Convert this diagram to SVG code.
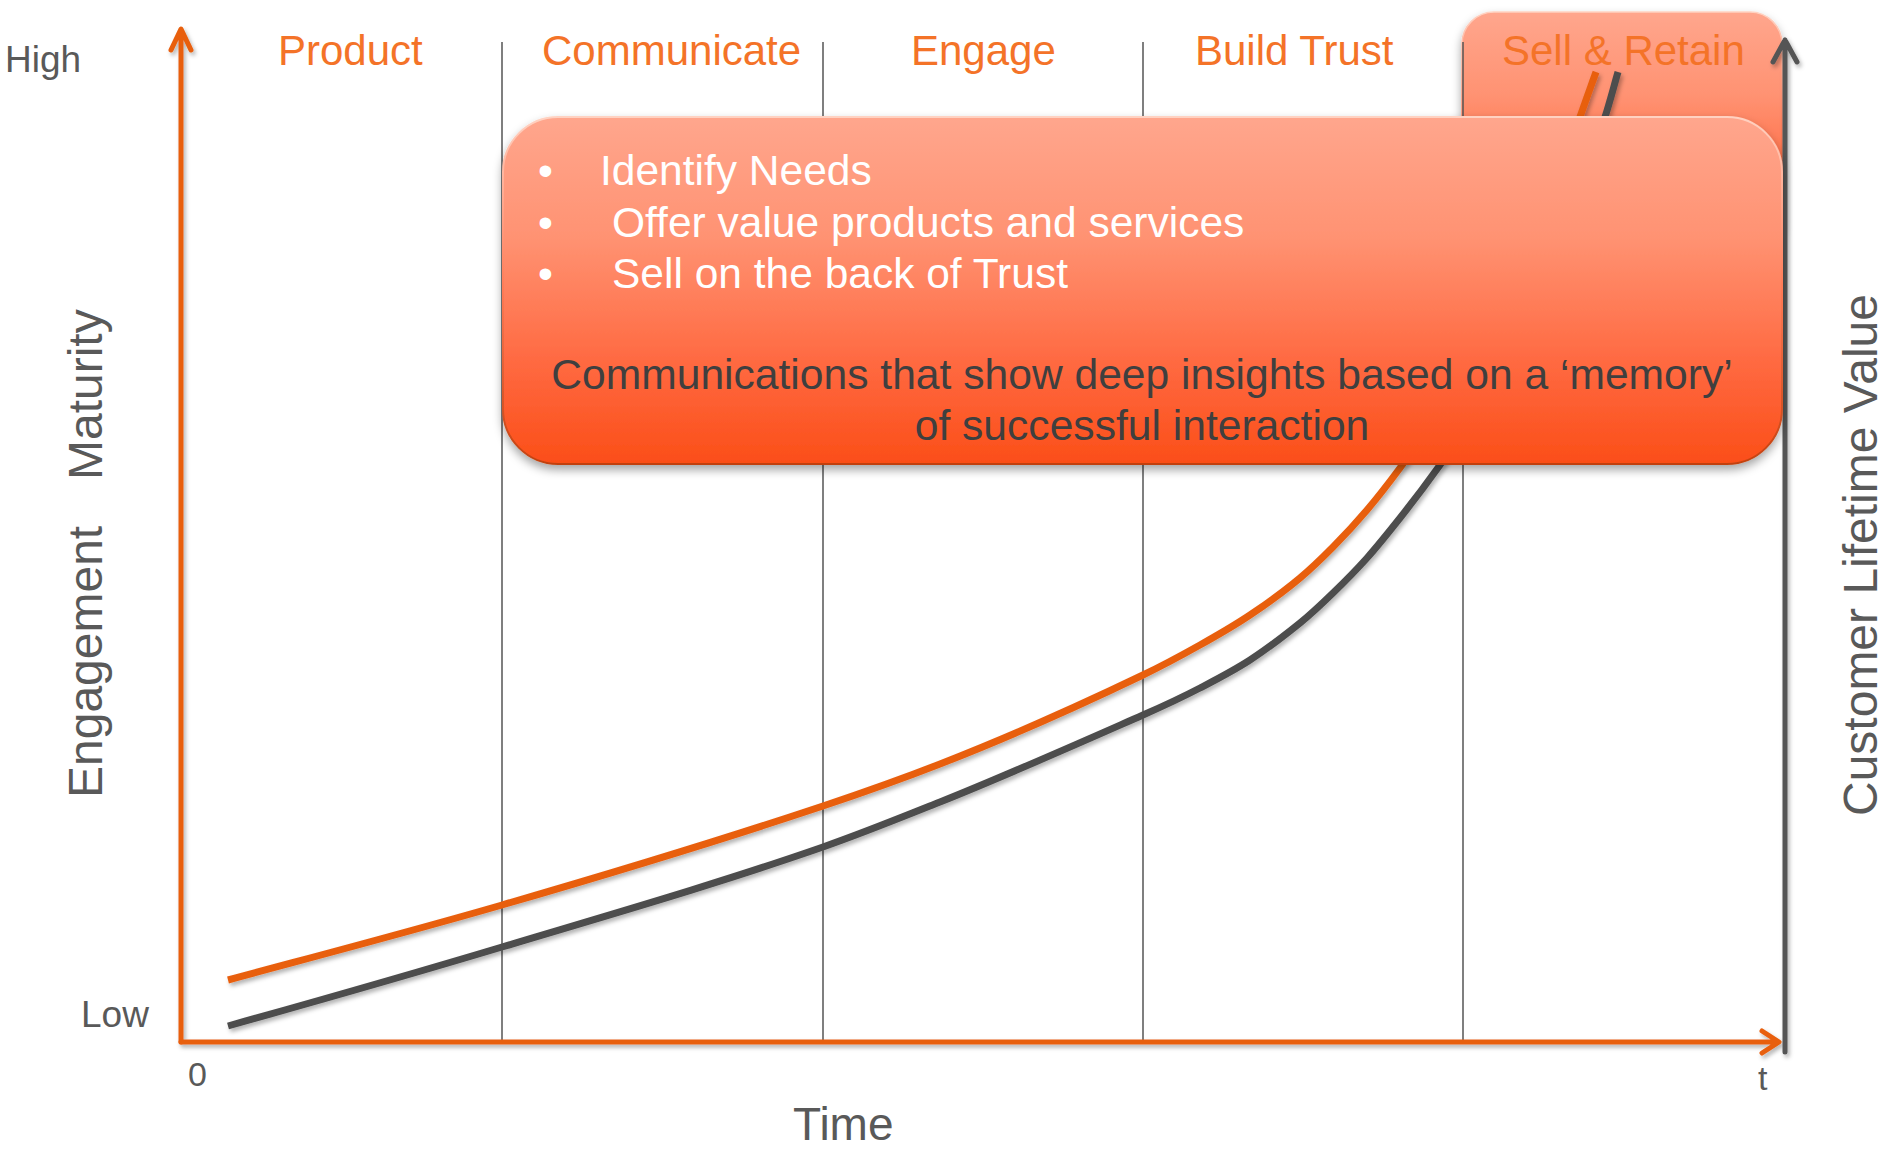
<svg xmlns="http://www.w3.org/2000/svg" width="1901" height="1153" viewBox="0 0 1901 1153">
<style>
.lbl{font-family:"Liberation Sans",Arial,sans-serif;fill:#595959}
.phase{font-family:"Liberation Sans",Arial,sans-serif;font-size:42px;fill:#f47328}
.bul{font-family:"Liberation Sans",Arial,sans-serif;font-size:42.5px;fill:#ffffff}
.comm{font-family:"Liberation Sans",Arial,sans-serif;font-size:42.6px;fill:#3f3f3f}
.div{stroke:#555555;stroke-width:1.5;fill:none}
.curve{fill:none;stroke-width:7;stroke-linecap:butt;stroke-linejoin:round}
</style>
<defs>
<linearGradient id="bubFill" x1="0" y1="0" x2="0" y2="1">
<stop offset="0" stop-color="#ffa68d"/>
<stop offset="0.35" stop-color="#ff9272"/>
<stop offset="0.7" stop-color="#ff6a42"/>
<stop offset="1" stop-color="#fb4e18"/>
</linearGradient>
<linearGradient id="bubStroke" x1="0" y1="0" x2="0" y2="1">
<stop offset="0" stop-color="#ffd2c2"/>
<stop offset="0.5" stop-color="#ff7a55"/>
<stop offset="1" stop-color="#c2410f"/>
</linearGradient>
<filter id="shadow" x="-10%" y="-10%" width="120%" height="130%">
<feDropShadow dx="0" dy="5" stdDeviation="5" flood-color="#000" flood-opacity="0.35"/>
</filter>
<filter id="lshadow" x="-5%" y="-5%" width="110%" height="110%">
<feDropShadow dx="2" dy="3" stdDeviation="2" flood-color="#000" flood-opacity="0.3"/>
</filter>
</defs>
<rect width="1901" height="1153" fill="#ffffff"/>

<g id="sell-retain-box" filter="url(#shadow)">
<rect x="1462" y="12" width="320" height="240" rx="32" fill="url(#bubFill)" stroke="url(#bubStroke)" stroke-width="1.5"/>
</g>

<g id="dividers">
<line class="div" x1="502" y1="42" x2="502" y2="1042"/>
<line class="div" x1="823" y1="42" x2="823" y2="1042"/>
<line class="div" x1="1143" y1="42" x2="1143" y2="1042"/>
<line class="div" x1="1463" y1="42" x2="1463" y2="1042"/>
</g>

<g id="phase-labels">
<text class="phase" x="278" y="65">Product</text>
<text class="phase" x="542" y="65">Communicate</text>
<text class="phase" x="911" y="65">Engage</text>
<text class="phase" x="1195" y="65">Build Trust</text>
<text class="phase" x="1502" y="65" fill="#f57a35">Sell &amp; Retain</text>
</g>

<g id="connectors" filter="url(#lshadow)">
<path id="clv-axis" d="M1785 1052 V40 M1773 62 L1785 40 L1797 62" fill="none" stroke="#555555" stroke-width="5" stroke-linejoin="round" stroke-linecap="round"/>
<path id="y-axis" d="M181 1042 V30 M171 50 L181 29 L191 50" fill="none" stroke="#e85e0e" stroke-width="5" stroke-linejoin="round" stroke-linecap="round"/>
<path id="x-axis" d="M181 1042 H1778 M1762 1031 L1779 1042 L1762 1053" fill="none" stroke="#e85e0e" stroke-width="5" stroke-linejoin="round" stroke-linecap="round"/>
<path id="gray-curve" class="curve" stroke="#4d4d4d" d="M228 1026 C319.33 1000.43 410.67 974.4 502 947 C609 914.9 716 884.24 823 847 C862 833.43 901 817.6 940 802 C1007.67 774.93 1075.33 744.77 1143 715 C1162 706.64 1181 697.88 1200 688 C1216.67 679.33 1233.33 670.83 1250 660 C1266.67 649.17 1283.33 636.5 1300 623 C1311 614.09 1322 603.67 1333 593 C1344.33 582.01 1355.67 570.69 1367 558 C1378 545.68 1389 531.86 1400 518 C1413.33 501.2 1426.67 483.67 1440 465 C1495 388 1550 282 1605 117 C1609.33 104 1613.67 87 1618 72"/>
<path id="orange-curve" class="curve" stroke="#e85e0e" d="M228 980 C319.33 955.34 410.67 931.49 502 905 C609 873.97 716 841.74 823 806 C862 792.97 901 779.21 940 764 C1007.67 737.61 1075.33 707.48 1143 675 C1162 665.88 1181 655.64 1200 645 C1216.67 635.67 1233.33 626.17 1250 615 C1266.67 603.83 1283.33 592 1300 578 C1311 568.76 1322 558.11 1333 547 C1344.33 535.55 1355.67 523.37 1367 510 C1378 497.02 1389 482.85 1400 468 C1460 387 1520 291 1580 117 C1585.33 101.53 1590.67 86.99 1596 72"/>
</g>

<g id="bubble">
<rect x="503" y="117" width="1279" height="347" rx="55" fill="url(#bubFill)" stroke="url(#bubStroke)" stroke-width="2" filter="url(#shadow)"/>
<text class="bul" x="538" y="185">•</text>
<text class="bul" x="600" y="185">Identify Needs</text>
<text class="bul" x="538" y="237">•</text>
<text class="bul" x="612" y="237">Offer value products and services</text>
<text class="bul" x="538" y="288">•</text>
<text class="bul" x="612" y="288">Sell on the back of Trust</text>
<text class="comm" x="1142" y="389" text-anchor="middle">Communications that show deep insights based on a ‘memory’</text>
<text class="comm" x="1142" y="440" text-anchor="middle">of successful interaction</text>
</g>

<g id="axis-labels">
<text class="lbl" x="5" y="72" font-size="37">High</text>
<text class="lbl" x="81" y="1027" font-size="37">Low</text>
<text class="lbl" x="188" y="1086" font-size="34">0</text>
<text class="lbl" x="1758" y="1090" font-size="34">t</text>
<text class="lbl" x="793" y="1140" font-size="46">Time</text>
<text class="lbl" font-size="48" transform="translate(102 798) rotate(-90)"><tspan x="0" y="0">Engagement</tspan><tspan x="318" y="0">Maturity</tspan></text>
<text class="lbl" font-size="48" transform="translate(1877 816) rotate(-90)" x="0" y="0">Customer Lifetime Value</text>
</g>
</svg>
